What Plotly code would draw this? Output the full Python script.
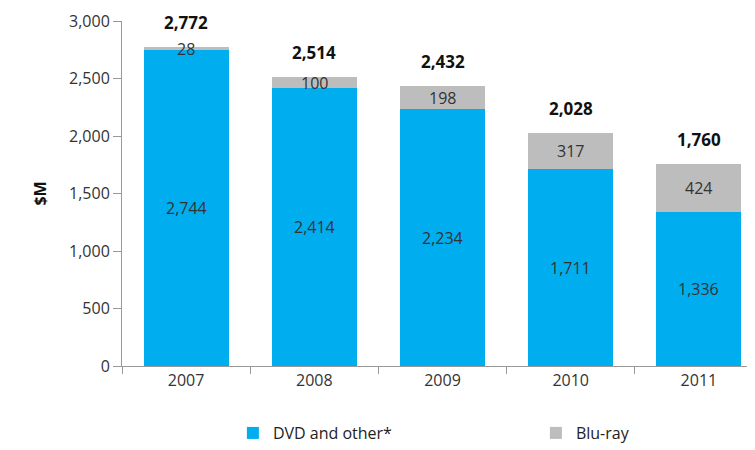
import plotly.graph_objects as go

years = ["2007", "2008", "2009", "2010", "2011"]
dvd = [2744, 2414, 2234, 1711, 1336]
bluray = [28, 100, 198, 317, 424]
totals = [2772, 2514, 2432, 2028, 1760]
y_ticks = [0, 500, 1000, 1500, 2000, 2500, 3000]

FONT = "Open Sans"
fig = go.Figure()
fig.add_trace(go.Bar(x=years, y=dvd, name="DVD and other*", marker_color="#00AEEF",
                     marker_line_width=0))
fig.add_trace(go.Bar(x=years, y=bluray, name="Blu-ray", marker_color="#BDBDBD",
                     marker_line_width=0))

ann = []
for i, (d, b, t) in enumerate(zip(dvd, bluray, totals)):
    ann.append(dict(x=i, y=d / 2, text=f"{d:,}", showarrow=False,
                    font=dict(family=FONT, size=16, color="#333333")))
    ann.append(dict(x=i, y=d + b / 2, text=f"{b:,}", showarrow=False,
                    font=dict(family=FONT, size=16, color="#333333")))
    ann.append(dict(x=i, y=t, text=f"<b>{t:,}</b>", showarrow=False, yanchor="bottom",
                    yshift=11, font=dict(family=FONT, size=17, color="#111111")))

fig.update_layout(
    width=755, height=450,
    barmode="stack", bargap=0.336,
    plot_bgcolor="white", paper_bgcolor="white",
    margin=dict(l=114, r=0, t=13, b=92, autoexpand=False),
    font=dict(family=FONT, size=16, color="#333333"),
    annotations=ann,
    legend=dict(orientation="h", x=0.173, xanchor="left", y=-0.145, yanchor="top",
                font=dict(family=FONT, size=16, color="#222222"),
                traceorder="normal", entrywidth=258),
    yaxis=dict(range=[0, 3000], tickvals=y_ticks, tickformat=",", showgrid=False,
               showline=True, linecolor="#999999", ticks="outside", ticklen=8,
               tickcolor="#999999", zeroline=False,
               tickfont=dict(family=FONT, size=16, color="#333333"),
               title=dict(text="<b>$M</b>", font=dict(family=FONT, size=16, color="#111111"),
                          standoff=18)),
    xaxis=dict(type="category", range=[-0.5, 4.5], showline=True, linecolor="#999999",
               ticks="outside", ticklen=7, tickcolor="#999999", tickson="boundaries",
               showgrid=False, tickangle=0),
)
fig.write_html("out.html")
